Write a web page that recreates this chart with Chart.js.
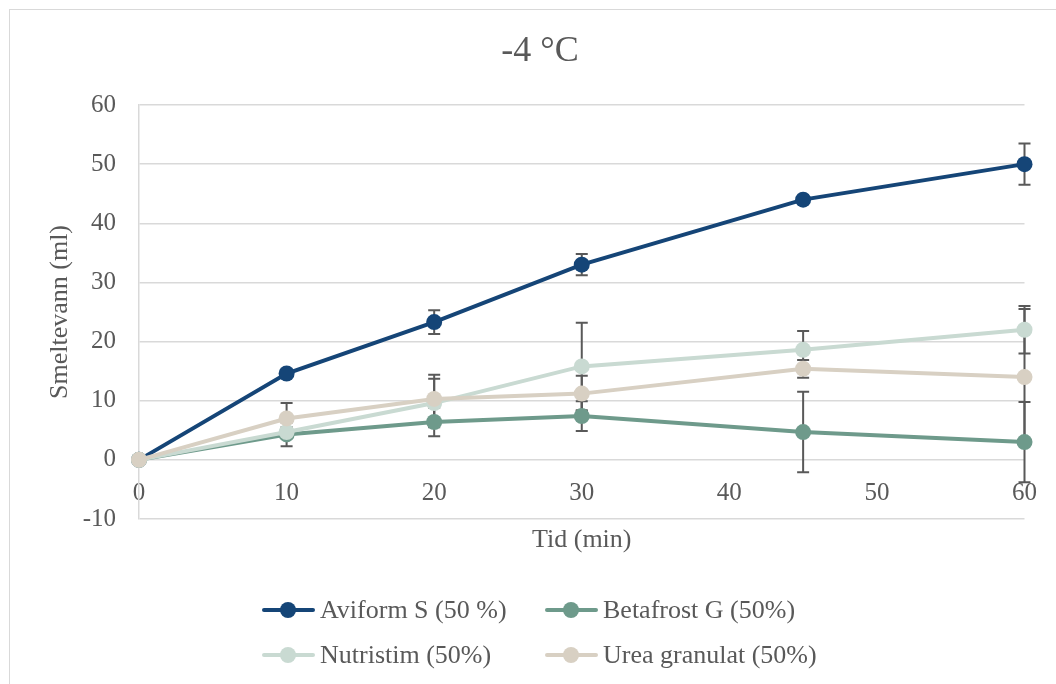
<!DOCTYPE html>
<html>
<head>
<meta charset="utf-8">
<script src="https://cdn.jsdelivr.net/npm/chart.js@4"></script>
<style>
  html, body { margin: 0; padding: 0; background: #fff; overflow: hidden; }
  #frame { position: absolute; left: 9px; top: 9px; width: 1100px; height: 700px; border: 1.5px solid #d9d9d9; pointer-events: none; }
  #wrap { position: absolute; left: 0; top: 0; width: 1056px; height: 684px; }
  #legend { position: absolute; left: 262px; top: 588px; display: grid; grid-template-columns: 283px auto; row-gap: 1px;
            font-family: "Liberation Serif", "Times New Roman", serif; font-size: 26px; color: #595959; }
  .item { display: flex; align-items: center; height: 44px; white-space: nowrap; }
  .sw { position: relative; width: 53px; height: 4px; border-radius: 2px; margin-right: 5px; }
  .sw i { position: absolute; left: 18px; top: -6px; width: 16px; height: 16px; border-radius: 50%; }
</style>
</head>
<body>
<div id="wrap"><canvas id="myChart" width="1056" height="684"></canvas></div>
<div id="frame"></div>
<div id="legend"></div>
<script>
// time (min)
var times = [0, 10, 20, 30, 45, 60];

// melted water (ml) and error bars, per product
var aviform = [0, 14.6, 23.3, 33.0, 44.0, 50.0];
var aviformErr = [0, 0.6, 2.0, 1.8, 0.6, 3.5];
var betafrost = [0, 4.3, 6.4, 7.4, 4.7, 3.0];
var betafrostErr = [0, 2.0, 2.4, 2.5, 6.8, 6.8];
var nutristim = [0, 4.7, 9.6, 15.8, 18.6, 22.0];
var nutristimErr = [0, 0.8, 4.1, 7.4, 3.2, 4.0];
var urea = [0, 7.0, 10.3, 11.2, 15.4, 14.0];
var ureaErr = [0, 2.6, 4.1, 3.0, 1.5, 11.5];

var seriesNames = ["Aviform S (50 %)", "Betafrost G (50%)", "Nutristim (50%)", "Urea granulat (50%)"];
var seriesColors = ["#154577", "#6e9a8b", "#c9dad2", "#d8d0c3"];

var yTicks = [-10, 0, 10, 20, 30, 40, 50, 60];
var xTicks = [0, 10, 20, 30, 40, 50, 60];

var FONT = "'Liberation Serif', 'Times New Roman', serif";
var GREY = "#595959";

function points(values) {
    return values.map(function (v, i) { return { x: times[i], y: v }; });
}

function makeDataset(i, values, errors) {
    return {
        label: seriesNames[i],
        data: points(values),
        errors: errors,
        borderColor: seriesColors[i],
        backgroundColor: seriesColors[i],
        pointBackgroundColor: seriesColors[i],
        pointBorderWidth: 0,
        pointRadius: 8,
        borderWidth: 4,
        tension: 0,
        clip: false,
        order: 4 - i // later series on top, like the original
    };
}

// Error bars drawn from the scales, behind the lines
var errorBars = {
    id: 'errorBars',
    beforeDatasetsDraw: function (chart) {
        var ctx = chart.ctx, xs = chart.scales.x, ys = chart.scales.y;
        ctx.save();
        ctx.strokeStyle = GREY;
        ctx.lineWidth = 2;
        chart.data.datasets.forEach(function (ds) {
            ds.data.forEach(function (p, i) {
                var e = ds.errors[i];
                if (!e) return;
                var px = xs.getPixelForValue(p.x);
                var top = ys.getPixelForValue(p.y + e);
                var bot = ys.getPixelForValue(p.y - e);
                ctx.beginPath();
                ctx.moveTo(px, top); ctx.lineTo(px, bot);
                ctx.moveTo(px - 6, top); ctx.lineTo(px + 6, top);
                ctx.moveTo(px - 6, bot); ctx.lineTo(px + 6, bot);
                ctx.stroke();
            });
        });
        ctx.restore();
    }
};

var ctxL = document.getElementById('myChart').getContext('2d');
window.myChart = new Chart(ctxL, {
    type: 'line',
    data: {
        datasets: [
            makeDataset(0, aviform, aviformErr),
            makeDataset(1, betafrost, betafrostErr),
            makeDataset(2, nutristim, nutristimErr),
            makeDataset(3, urea, ureaErr)
        ]
    },
    options: {
        responsive: false,
        animation: false,
        layout: { padding: { left: 55, right: 31, top: 0, bottom: 165 } },
        scales: {
            x: {
                type: 'linear',
                position: { y: 0 },
                min: 0,
                max: 60,
                afterBuildTicks: function (axis) { axis.ticks = xTicks.map(function (v) { return { value: v }; }); },
                grid: { display: false, drawTicks: false },
                border: { display: false },
                ticks: { color: GREY, font: { family: FONT, size: 25 }, padding: 19 },
                title: { display: true, text: 'Tid (min)', color: GREY, font: { family: FONT, size: 26 }, padding: { top: -3, bottom: 0 } }
            },
            y: {
                min: -10,
                max: 60,
                afterBuildTicks: function (axis) { axis.ticks = yTicks.map(function (v) { return { value: v }; }); },
                grid: { color: '#d9d9d9', lineWidth: 1.5, drawTicks: false },
                border: { color: '#d9d9d9', width: 1.5 },
                ticks: { color: GREY, font: { family: FONT, size: 25 }, padding: 23 },
                title: { display: true, text: 'Smeltevann (ml)', color: GREY, font: { family: FONT, size: 26 }, padding: { top: -10.6, bottom: -15.9 } }
            }
        },
        plugins: {
            legend: { display: false },
            tooltip: { enabled: false },
            title: {
                display: true,
                text: '-4 °C',
                color: GREY,
                font: { family: FONT, size: 36, weight: 'normal' },
                padding: { top: 30.4, bottom: 31.4 }
            }
        }
    },
    plugins: [errorBars]
});

// Legend laid out in two columns like the original
var legendEl = document.getElementById('legend');
seriesNames.forEach(function (name, i) {
    var item = document.createElement('div');
    item.className = 'item';
    item.innerHTML = '<span class="sw" style="background:' + seriesColors[i] + '"><i style="background:' + seriesColors[i] + '"></i></span>' + name;
    legendEl.appendChild(item);
});
</script>
</body>
</html>
